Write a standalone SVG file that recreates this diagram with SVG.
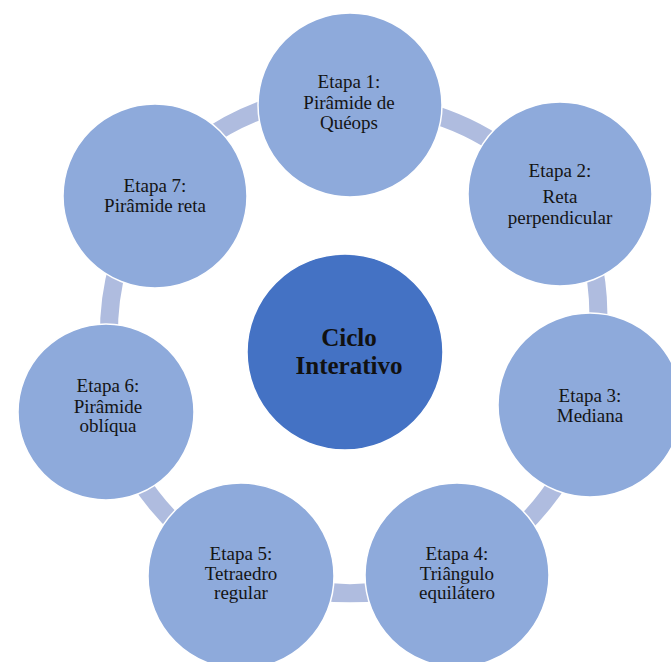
<svg xmlns="http://www.w3.org/2000/svg" width="671" height="662" viewBox="0 0 671 662">
<style>
.node{fill:#8eaadb;stroke:#ffffff;stroke-width:1.5}
.hub{fill:#4472c4;stroke:#ffffff;stroke-width:1.5}
.conn{fill:none;stroke:#afbcdf;stroke-width:18}
.t{font-family:"Liberation Serif","Times New Roman",serif;font-size:19px;fill:#141414;text-anchor:middle}
.h{font-family:"Liberation Serif","Times New Roman",serif;font-size:25px;font-weight:bold;fill:#111111;text-anchor:middle}
</style>
<rect width="671" height="662" fill="#ffffff"/>
<g id="connectors">
<path class="conn" d="M 425 112 A 250 250 0 0 1 505 150"/>
<path class="conn" d="M 594 268 A 250 250 0 0 1 598 328"/>
<path class="conn" d="M 562 476 A 250 250 0 0 1 518 530"/>
<path class="conn" d="M 390 590 A 250 250 0 0 1 310 590"/>
<path class="conn" d="M 182 530 A 250 250 0 0 1 137 476"/>
<path class="conn" d="M 109 338 A 250 250 0 0 1 119 262"/>
<path class="conn" d="M 200 143 A 250 250 0 0 1 280 104"/>
</g>
<g id="node1">
<circle class="node" cx="350" cy="105" r="92"/>
<text class="t" x="349" y="88">Etapa 1:</text>
<text class="t" x="349" y="109">Pirâmide de</text>
<text class="t" x="349" y="129">Quéops</text>
</g>
<g id="node2">
<circle class="node" cx="560" cy="194" r="92"/>
<text class="t" x="560" y="177">Etapa 2:</text>
<text class="t" x="560" y="203">Reta</text>
<text class="t" x="560" y="224">perpendicular</text>
</g>
<g id="node3">
<circle class="node" cx="590" cy="405" r="92"/>
<text class="t" x="590" y="402">Etapa 3:</text>
<text class="t" x="590" y="422">Mediana</text>
</g>
<g id="node4">
<circle class="node" cx="457" cy="575" r="92"/>
<text class="t" x="457" y="560">Etapa 4:</text>
<text class="t" x="457" y="580">Triângulo</text>
<text class="t" x="457" y="599">equilátero</text>
</g>
<g id="node5">
<circle class="node" cx="241" cy="576" r="93"/>
<text class="t" x="241" y="560">Etapa 5:</text>
<text class="t" x="241" y="580">Tetraedro</text>
<text class="t" x="241" y="599">regular</text>
</g>
<g id="node6">
<circle class="node" cx="106" cy="412" r="88"/>
<text class="t" x="108" y="392">Etapa 6:</text>
<text class="t" x="108" y="413">Pirâmide</text>
<text class="t" x="108" y="432">oblíqua</text>
</g>
<g id="node7">
<circle class="node" cx="155" cy="196" r="92"/>
<text class="t" x="155" y="192">Etapa 7:</text>
<text class="t" x="155" y="212">Pirâmide reta</text>
</g>
<g id="hub">
<circle class="hub" cx="345" cy="352" r="98"/>
<text class="h" x="349" y="346">Ciclo</text>
<text class="h" x="349" y="374">Interativo</text>
</g>
</svg>
